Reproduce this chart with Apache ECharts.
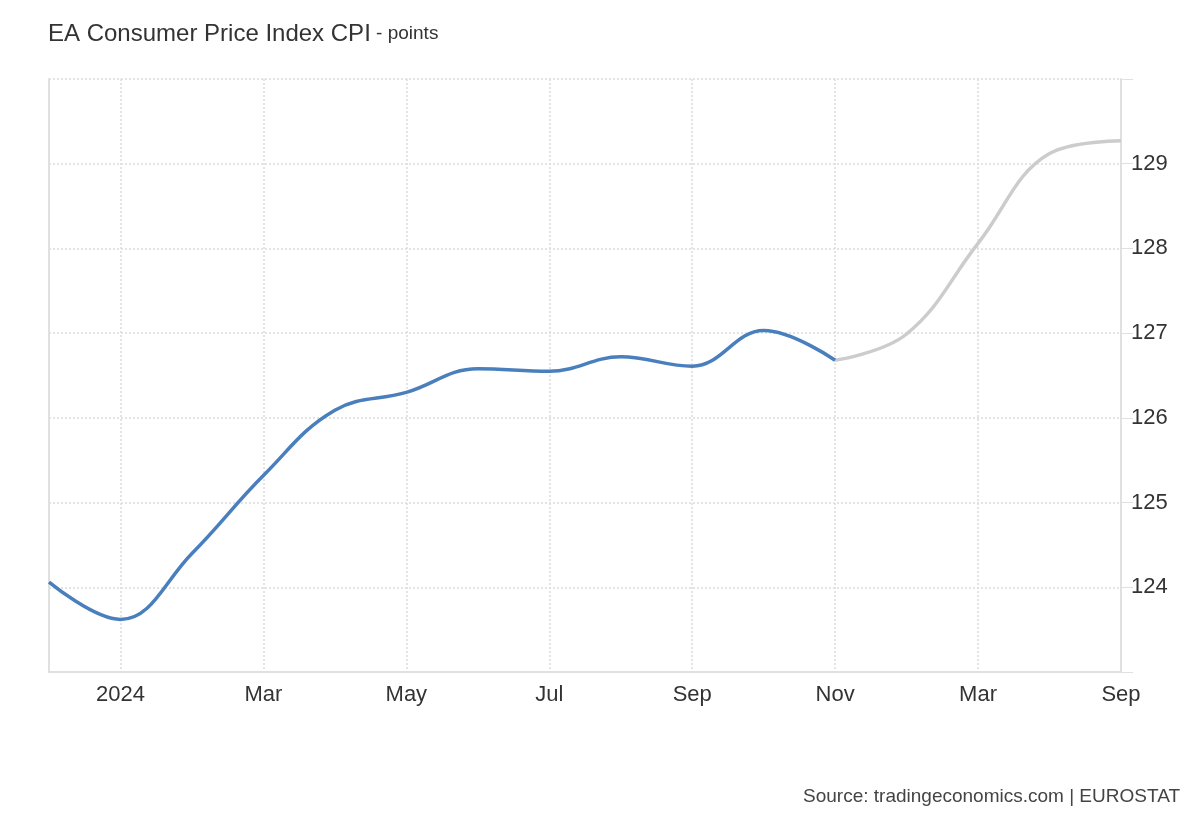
<!DOCTYPE html>
<html>
<head>
<meta charset="utf-8">
<script src="https://cdn.jsdelivr.net/npm/echarts@6/dist/echarts.min.js"></script>
<style>
html,body{margin:0;padding:0;background:#fff;}
#chart{width:1200px;height:820px;}
</style>
</head>
<body>
<div id="chart"></div>
<script>
// Categories: Dec 2023 .. Nov 2024 monthly, then quarterly forecast to Sep 2025
var categories = ['Dec', '2024', 'Feb', 'Mar', 'Apr', 'May', 'Jun', 'Jul', 'Aug', 'Sep', 'Oct', 'Nov', 'Dec', 'Mar', 'Jun', 'Sep'];
var actualValues = [124.06, 123.62, 124.40, 125.32, 126.09, 126.30, 126.58, 126.55, 126.72, 126.61, 127.03, 126.68, '-', '-', '-', '-'];
var forecastValues = ['-', '-', '-', '-', '-', '-', '-', '-', '-', '-', '-', 126.68, 126.99, 128.06, 129.12, 129.27];
var yTicks = [124, 125, 126, 127, 128, 129];

var FONT = '"Liberation Sans", Arial, sans-serif';
var chart = echarts.init(document.getElementById('chart'), null, {renderer: 'canvas'});
var showIdx = function (i) { return i % 2 === 1; };
var gridDot = {color: '#dcdcdc', type: [2, 2], width: 1.5};

chart.setOption({
  animation: false,
  backgroundColor: '#ffffff',
  title: {
    left: 43,
    top: 17,
    text: '{a|EA Consumer Price Index CPI}{b| - points}',
    textStyle: {
      fontWeight: 'normal',
      rich: {
        a: {fontSize: 24, color: '#333333', fontFamily: FONT, fontWeight: 'normal'},
        b: {fontSize: 19, color: '#333333', fontFamily: FONT, fontWeight: 'normal'}
      }
    }
  },
  graphic: [{
    type: 'text',
    right: 20,
    top: 787,
    style: {text: 'Source: tradingeconomics.com | EUROSTAT', fontSize: 19, fill: '#444444', fontFamily: FONT}
  }],
  grid: {left: 49, right: 79, top: 79, bottom: 148, containLabel: false},
  xAxis: {
    type: 'category',
    data: categories,
    boundaryGap: false,
    axisLine: {show: true, lineStyle: {color: '#e0e0e0', width: 2}},
    axisTick: {show: false},
    axisLabel: {interval: function (i) { return showIdx(i); }, color: '#333333', fontSize: 22, fontFamily: FONT, margin: 12},
    splitLine: {show: true, interval: function (i) { return showIdx(i); }, lineStyle: gridDot}
  },
  yAxis: [{
    type: 'value',
    position: 'right',
    min: 123,
    max: 130,
    interval: 1,
    axisLine: {show: true, lineStyle: {color: '#e0e0e0', width: 2}},
    axisTick: {show: true, length: 12, lineStyle: {color: '#e0e0e0', width: 1}},
    axisLabel: {
      color: '#333333', fontSize: 22, fontFamily: FONT, margin: 10,
      formatter: function (v) { return yTicks.indexOf(v) >= 0 ? String(v) : ''; }
    },
    splitLine: {show: true, lineStyle: gridDot}
  }, {
    type: 'value',
    position: 'left',
    min: 123,
    max: 130,
    interval: 1,
    axisLine: {show: true, lineStyle: {color: '#e0e0e0', width: 2}},
    axisTick: {show: false},
    axisLabel: {show: false},
    splitLine: {show: false}
  }],
  series: [{
    type: 'line',
    name: 'CPI',
    data: actualValues,
    smooth: 0.4,
    symbol: 'none',
    lineStyle: {color: '#4a7fbd', width: 3.5},
    z: 3
  }, {
    type: 'line',
    name: 'Forecast',
    data: forecastValues,
    smooth: 0.4,
    symbol: 'none',
    lineStyle: {color: '#cccccc', width: 3.5},
    z: 2
  }]
});
</script>
</body>
</html>
